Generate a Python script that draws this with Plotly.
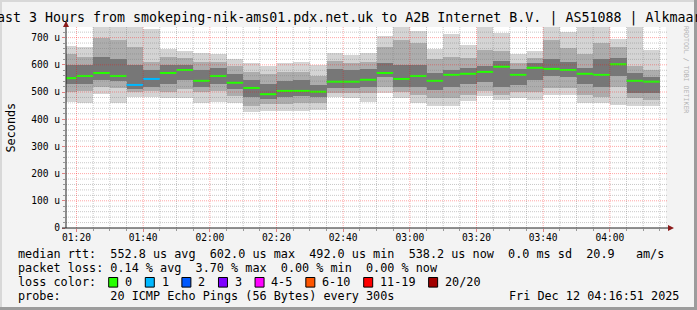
import plotly.graph_objects as go
import pandas as pd

# ---------------- data ----------------
day = "2025-12-12 "
first_bar = "01:15"          # start of the first 300 s step
step_s = 300
view_start = "01:16:51"
view_end = "04:16:51"

rtt_min = [463, 459, 493, 461, 480, 481, 477, 477, 461, 465, 459, 425, 432, 432, 432, 434, 481, 477,
           465, 498, 477, 459, 449, 449, 468, 486, 471, 477, 471, 490, 490, 461, 459, 453, 449, 449]
rtt_p10 = [500, 505, 520, 515, 500, 505, 500, 510, 500, 505, 485, 450, 455, 455, 460, 460, 495, 495,
           495, 520, 500, 490, 478, 478, 490, 505, 490, 500, 500, 515, 515, 490, 480, 520, 477, 472]
rtt_p25 = [530, 530, 545, 540, 510, 520, 530, 545, 520, 530, 510, 480, 475, 480, 485, 480, 515, 515,
           520, 555, 520, 520, 508, 520, 530, 535, 520, 525, 545, 560, 557, 530, 520, 560, 495, 495]
rtt_median = [551, 559, 570, 559, 526, 548, 570, 581, 541, 559, 534, 515, 492, 504, 504, 501, 538, 538,
              545, 570, 548, 559, 541, 563, 567, 574, 593, 563, 589, 585, 581, 567, 563, 602, 541, 538.2]
rtt_p75 = [600, 600, 630, 620, 600, 580, 600, 600, 580, 590, 565, 545, 530, 540, 545, 525, 585, 580,
           585, 605, 600, 600, 570, 580, 590, 595, 615, 585, 605, 620, 610, 590, 620, 625, 570, 555]
rtt_p90 = [640, 630, 700, 690, 665, 610, 630, 625, 610, 610, 595, 575, 565, 575, 575, 560, 615, 605,
           610, 665, 690, 680, 620, 630, 625, 655, 650, 605, 625, 690, 660, 640, 680, 665, 595, 582]
rtt_max = [670, 665, 760, 760, 750, 732, 657, 652, 645, 640, 620, 608, 594, 608, 612, 600, 643, 636,
           643, 706, 750, 726, 657, 714, 673, 745, 718, 640, 649, 745, 722, 745, 745, 694, 745, 655]
lost_pings = [0, 0, 0, 0, 1, 1, 0, 0, 0, 0, 0, 0, 0, 0, 0, 0, 0, 0,
              0, 0, 0, 0, 0, 0, 0, 0, 0, 0, 0, 0, 0, 0, 0, 0, 0, 0]

x_tick_labels = ["01:20", "01:40", "02:00", "02:20", "02:40", "03:00", "03:20", "03:40", "04:00"]
y_tick_values = [0, 100, 200, 300, 400, 500, 600, 700]
y_tick_labels = ["0", "100 u", "200 u", "300 u", "400 u", "500 u", "600 u", "700 u"]

loss_labels = ["0", "1", "2", "3", "4-5", "6-10", "11-19", "20/20"]
loss_colors = ["#26ff00", "#00b8ff", "#0059ff", "#7e00ff", "#ff00ff", "#ff5500", "#ff0000", "#a10000"]

title_text = "Last 3 Hours from smokeping-nik-ams01.pdx.net.uk to A2B Internet B.V. | AS51088 | Alkmaar"
legend_lines = [
    "median rtt:  552.8 us avg  602.0 us max  492.0 us min  538.2 us now  0.0 ms sd  20.9   am/s",
    "packet loss: 0.14 % avg  3.70 % max  0.00 % min  0.00 % now",
]
probe_text = "probe:       20 ICMP Echo Pings (56 Bytes) every 300s"
date_text = "Fri Dec 12 04:16:51 2025"

# ---------------- geometry ----------------
W, H = 697, 310
L, R, T, B = 66, 666, 27, 228
PW, PH = R - L, B - T
YMAX = 739


def px(x):
    return (x - L) / PW


def py(y):
    return (B - y) / PH


FONT = "DejaVu Sans Mono"
n = len(rtt_median)
starts = pd.date_range(day + first_bar, periods=n, freq=f"{step_s}s")
centers = starts + pd.Timedelta(seconds=step_s / 2)
ends = starts + pd.Timedelta(seconds=step_s)
width_ms = step_s * 1000

fig = go.Figure()

bands = [
    (rtt_min, rtt_max, "#d4d4d4"),
    (rtt_p10, rtt_p90, "#adadad"),
    (rtt_p25, rtt_p75, "#777777"),
]
for lo, hi, col in bands:
    fig.add_trace(go.Bar(
        x=centers, base=lo, y=[h - l for l, h in zip(lo, hi)], width=width_ms,
        marker=dict(color=col, line=dict(width=0)), showlegend=False, hoverinfo="skip"))


def loss_bucket(k):
    if k <= 3:
        return k
    if k <= 5:
        return 4
    if k <= 10:
        return 5
    if k <= 19:
        return 6
    return 7


for ci, col in enumerate(loss_colors):
    xs, ys = [], []
    for i in range(n):
        if loss_bucket(lost_pings[i]) == ci:
            xs += [starts[i], ends[i], None]
            ys += [rtt_median[i], rtt_median[i], None]
    if xs:
        fig.add_trace(go.Scatter(x=xs, y=ys, mode="lines", line=dict(color=col, width=2),
                                 showlegend=False, hoverinfo="skip"))

shapes = []
# grid drawn over the smoke, like rrdtool
for v in range(20, YMAX, 20):
    major = v % 100 == 0
    shapes.append(dict(type="line", xref="paper", yref="y", x0=0, x1=(R + 2 - L) / PW, y0=v, y1=v,
                       layer="above",
                       line=dict(color="rgba(255,0,0,0.35)" if major else "rgba(120,120,120,0.4)",
                                 width=1, dash="1px,1px")))
grid_times = pd.date_range(day + "01:20", day + "04:15", freq="5min")
for t in grid_times:
    major = t.minute % 20 == 0
    shapes.append(dict(type="line", xref="x", yref="paper", x0=t, x1=t, y0=0, y1=1, layer="above",
                       line=dict(color="rgba(255,0,0,0.35)" if major else "rgba(120,120,120,0.4)",
                                 width=1, dash="1px,1px")))
# axis extensions and arrows
shapes.append(dict(type="line", xref="paper", yref="paper", x0=px(66), x1=px(66), y0=py(228), y1=py(22),
                   line=dict(color="#222", width=1)))
shapes.append(dict(type="line", xref="paper", yref="paper", x0=px(62), x1=px(670), y0=py(228), y1=py(228),
                   line=dict(color="#222", width=1)))
shapes.append(dict(type="path", xref="paper", yref="paper",
                   path=f"M {px(63)} {py(27)} L {px(69)} {py(27)} L {px(66)} {py(21)} Z",
                   fillcolor="#8b1a1a", line=dict(width=0)))
shapes.append(dict(type="path", xref="paper", yref="paper",
                   path=f"M {px(668)} {py(225)} L {px(668)} {py(231)} L {px(674)} {py(228)} Z",
                   fillcolor="#8b1a1a", line=dict(width=0)))
# frame of the image
shapes.append(dict(type="rect", xref="paper", yref="paper", x0=px(0), x1=px(2), y0=py(0), y1=py(310),
                   fillcolor="#d8d8d8", line=dict(width=0), layer="below"))
shapes.append(dict(type="rect", xref="paper", yref="paper", x0=px(0), x1=px(697), y0=py(0), y1=py(2),
                   fillcolor="#d8d8d8", line=dict(width=0), layer="below"))
shapes.append(dict(type="rect", xref="paper", yref="paper", x0=px(694), x1=px(697), y0=py(0), y1=py(310),
                   fillcolor="#9c9c9c", line=dict(width=0), layer="below"))
shapes.append(dict(type="rect", xref="paper", yref="paper", x0=px(0), x1=px(697), y0=py(307), y1=py(310),
                   fillcolor="#9c9c9c", line=dict(width=0), layer="below"))

annotations = []
annotations.append(dict(text=title_text, xref="paper", yref="paper", x=px(-13.5), y=py(18.5),
                        xanchor="left", yanchor="middle", showarrow=False,
                        font=dict(family=FONT, size=13.3, color="#000")))
annotations.append(dict(text="Seconds", xref="paper", yref="paper", x=px(10), y=py(127.5),
                        xanchor="center", yanchor="middle", textangle=-90, showarrow=False,
                        font=dict(family=FONT, size=11.8, color="#000")))
annotations.append(dict(text="RRDTOOL / TOBI OETIKER", xref="paper", yref="paper", x=px(686), y=py(69),
                        xanchor="center", yanchor="middle", textangle=90, showarrow=False,
                        font=dict(family=FONT, size=6.6, color="#b4b4b4")))

CW = 7.09
LX = 16
line_y = [254.3, 268.3, 282.3, 296.0]
for i, txt in enumerate(legend_lines):
    annotations.append(dict(text=txt.replace(" ", "\u00a0"), xref="paper", yref="paper",
                            x=px(LX), y=py(line_y[i]), xanchor="left", yanchor="middle", showarrow=False,
                            font=dict(family=FONT, size=11.8, color="#000")))
annotations.append(dict(text="loss\u00a0color:", xref="paper", yref="paper", x=px(LX), y=py(line_y[2]),
                        xanchor="left", yanchor="middle", showarrow=False,
                        font=dict(family=FONT, size=11.8, color="#000")))
bx = 108.7
for lab, col in zip(loss_labels, loss_colors):
    shapes.append(dict(type="rect", xref="paper", yref="paper", x0=px(bx), x1=px(bx + 9),
                       y0=py(line_y[2] - 4.8), y1=py(line_y[2] + 4.8), fillcolor=col,
                       line=dict(color="#000", width=1)))
    annotations.append(dict(text=lab, xref="paper", yref="paper", x=px(bx + 14.3), y=py(line_y[2]),
                            xanchor="left", yanchor="middle", showarrow=False,
                            font=dict(family=FONT, size=11.8, color="#000")))
    bx += 29.5 + CW * len(lab)
annotations.append(dict(text=probe_text.replace(" ", "\u00a0"), xref="paper", yref="paper",
                        x=px(LX), y=py(line_y[3]), xanchor="left", yanchor="middle", showarrow=False,
                        font=dict(family=FONT, size=11.8, color="#000")))
annotations.append(dict(text=date_text, xref="paper", yref="paper", x=px(681), y=py(line_y[3]),
                        xanchor="right", yanchor="middle", showarrow=False,
                        font=dict(family=FONT, size=11.8, color="#000")))

fig.update_layout(
    width=W, height=H, autosize=False,
    margin=dict(l=L, r=W - R, t=T, b=H - B, pad=0),
    paper_bgcolor="#f3f3f3", plot_bgcolor="#ffffff",
    barmode="overlay", bargap=0, showlegend=False,
    shapes=shapes, annotations=annotations,
    xaxis=dict(type="date", range=[day + view_start, day + view_end],
               tickvals=[day + s for s in x_tick_labels], ticktext=x_tick_labels,
               showgrid=False, zeroline=False, showline=False,
               ticks="outside", ticklen=3, tickcolor="#e08080", ticklabelstandoff=-3,
               tickfont=dict(family=FONT, size=9.6, color="#000"),
               minor=dict(dtick=300000, ticks="outside", ticklen=2, tickcolor="#999", showgrid=False)),
    yaxis=dict(range=[0, YMAX], tickvals=y_tick_values, ticktext=y_tick_labels,
               showgrid=False, zeroline=False, showline=False,
               ticks="outside", ticklen=3, tickcolor="#e08080",
               tickfont=dict(family=FONT, size=9.6, color="#000"),
               minor=dict(dtick=20, ticks="outside", ticklen=2, tickcolor="#999", showgrid=False)),
)

fig.write_html("out.html")
